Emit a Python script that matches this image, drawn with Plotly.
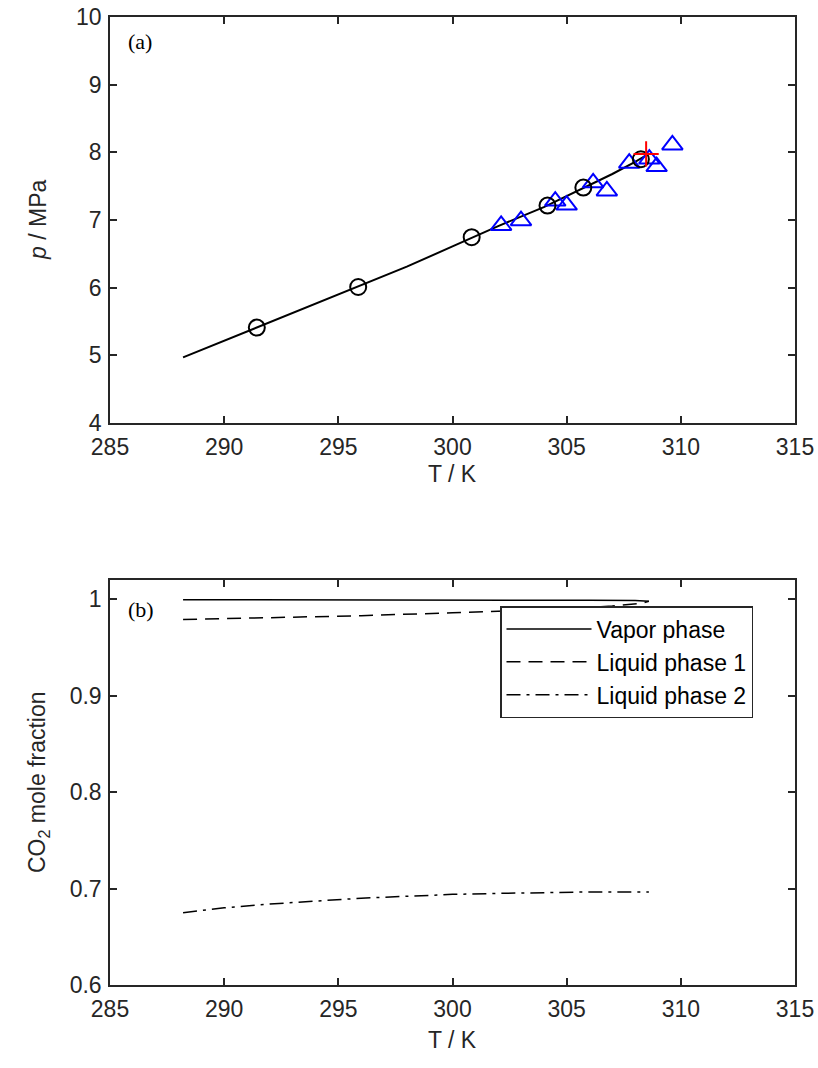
import plotly.graph_objects as go

# ---- data (a) ----
line_T = [288.2, 290, 292, 294, 296, 298, 300, 302, 304, 306, 307, 308, 308.5]
line_p = [4.97, 5.215, 5.49, 5.76, 6.03, 6.31, 6.61, 6.91, 7.19, 7.51, 7.68, 7.86, 7.96]
circ_T = [291.43, 295.87, 300.84, 304.16, 305.73, 308.25]
circ_p = [5.41, 6.01, 6.746, 7.213, 7.479, 7.898]
tri_T = [302.13, 303.0, 304.5, 305.0, 306.16, 306.76, 307.74, 308.62, 308.94, 309.63]
tri_p = [6.92, 6.99, 7.28, 7.22, 7.55, 7.43, 7.84, 7.90, 7.79, 8.11]
crit_T = [308.48]
crit_p = [7.976]

# ---- data (b) ----
vap_T = [288.2, 292, 296, 300, 304, 306, 308, 308.6]
vap_x = [0.9995, 0.9995, 0.9994, 0.9993, 0.9992, 0.999, 0.9987, 0.998]
liq1_T = [288.2, 292, 296, 300, 303, 305, 307, 308.3, 308.6]
liq1_x = [0.979, 0.981, 0.983, 0.986, 0.988, 0.990, 0.993, 0.996, 0.998]
liq2_T = [288.2, 290, 292, 294, 296, 298, 300, 302, 304, 306, 308, 308.6]
liq2_x = [0.675, 0.680, 0.684, 0.687, 0.690, 0.692, 0.694, 0.695, 0.696, 0.6965, 0.6965, 0.6965]

xticks = [285, 290, 295, 300, 305, 310, 315]
yticks_a = [4, 5, 6, 7, 8, 9, 10]
yticks_b = [0.6, 0.7, 0.8, 0.9, 1.0]
yticklabels_b = ["0.6", "0.7", "0.8", "0.9", "1"]

W, H = 818, 1068
FONT = "Liberation Sans, Arial, sans-serif"
AXC = "#262626"

fig = go.Figure()
fig.add_trace(go.Scatter(x=line_T, y=line_p, mode="lines", line=dict(color="black", width=2),
                         showlegend=False, xaxis="x", yaxis="y"))
fig.add_trace(go.Scatter(x=tri_T, y=tri_p, mode="markers",
                         marker=dict(symbol="triangle-up-open", size=18, color="#0000FF",
                                     line=dict(width=2, color="#0000FF")),
                         showlegend=False, xaxis="x", yaxis="y"))
fig.add_trace(go.Scatter(x=circ_T, y=circ_p, mode="markers",
                         marker=dict(symbol="circle-open", size=16, color="black",
                                     line=dict(width=2, color="black")),
                         showlegend=False, xaxis="x", yaxis="y"))
fig.add_trace(go.Scatter(x=crit_T, y=crit_p, mode="markers",
                         marker=dict(symbol="cross-thin-open", size=18, color="red",
                                     line=dict(width=2, color="red")),
                         showlegend=False, xaxis="x", yaxis="y"))

fig.add_trace(go.Scatter(x=vap_T, y=vap_x, mode="lines", name="Vapor phase",
                         line=dict(color="black", width=1.5), xaxis="x2", yaxis="y2"))
fig.add_trace(go.Scatter(x=liq1_T, y=liq1_x, mode="lines", name="Liquid phase 1",
                         line=dict(color="black", width=1.5, dash="14px,8px"), xaxis="x2", yaxis="y2"))
fig.add_trace(go.Scatter(x=liq2_T, y=liq2_x, mode="lines", name="Liquid phase 2",
                         line=dict(color="black", width=1.5, dash="14px,6px,3px,6px"), xaxis="x2", yaxis="y2"))

xdom = [110 / W, 795 / W]
ydom_a = [1 - 423 / H, 1 - 17 / H]
ydom_b = [1 - 985 / H, 1 - 580 / H]

axis_common = dict(showline=True, linecolor=AXC, linewidth=1.5, mirror="ticks",
                   ticks="inside", ticklen=7, tickwidth=1.5, tickcolor=AXC,
                   showgrid=False, zeroline=False, automargin=False,
                   tickfont=dict(family=FONT, size=23, color=AXC))

fig.update_layout(
    width=W, height=H,
    margin=dict(l=0, r=0, t=0, b=0, pad=0),
    plot_bgcolor="white", paper_bgcolor="white",
    xaxis=dict(domain=xdom, range=[285, 315], tickvals=xticks, anchor="y",
               ticklabelstandoff=3, **axis_common),
    yaxis=dict(domain=ydom_a, range=[4, 10], tickvals=yticks_a, anchor="x",
               ticklabelstandoff=2, **axis_common),
    xaxis2=dict(domain=xdom, range=[285, 315], tickvals=xticks, anchor="y2",
                ticklabelstandoff=3, **axis_common),
    yaxis2=dict(domain=ydom_b, range=[0.6, 1.02], tickvals=yticks_b, ticktext=yticklabels_b,
                anchor="x2", ticklabelstandoff=2, **axis_common),
    legend=dict(x=500 / W, y=1 - 606 / H, xanchor="left", yanchor="top",
                bordercolor=AXC, borderwidth=1.5, bgcolor="white",
                font=dict(family=FONT, size=23, color="black"),
                itemwidth=85, tracegroupgap=0),
    showlegend=True,
)

ann = [
    dict(text="(a)", x=126 / W, y=1 - 42 / H, xanchor="left", yanchor="middle",
         font=dict(family="Liberation Serif, Times New Roman, serif", size=22, color="black")),
    dict(text="(b)", x=126 / W, y=1 - 609 / H, xanchor="left", yanchor="middle",
         font=dict(family="Liberation Serif, Times New Roman, serif", size=22, color="black")),
    dict(text="<i>p</i> / MPa", x=38 / W, y=1 - 220 / H, textangle=-90, xanchor="center", yanchor="middle",
         font=dict(family=FONT, size=23, color=AXC)),
    dict(text="T / K", x=452 / W, y=1 - 474 / H, xanchor="center", yanchor="middle",
         font=dict(family=FONT, size=23, color=AXC)),
    dict(text="CO<sub>2</sub> mole fraction", x=38 / W, y=1 - 782 / H, textangle=-90,
         xanchor="center", yanchor="middle", font=dict(family=FONT, size=23, color=AXC)),
    dict(text="T / K", x=452 / W, y=1 - 1040 / H, xanchor="center", yanchor="middle",
         font=dict(family=FONT, size=23, color=AXC)),
]
for a in ann:
    a.update(xref="paper", yref="paper", showarrow=False)
fig.update_layout(annotations=ann)

fig.write_html("out.html")
